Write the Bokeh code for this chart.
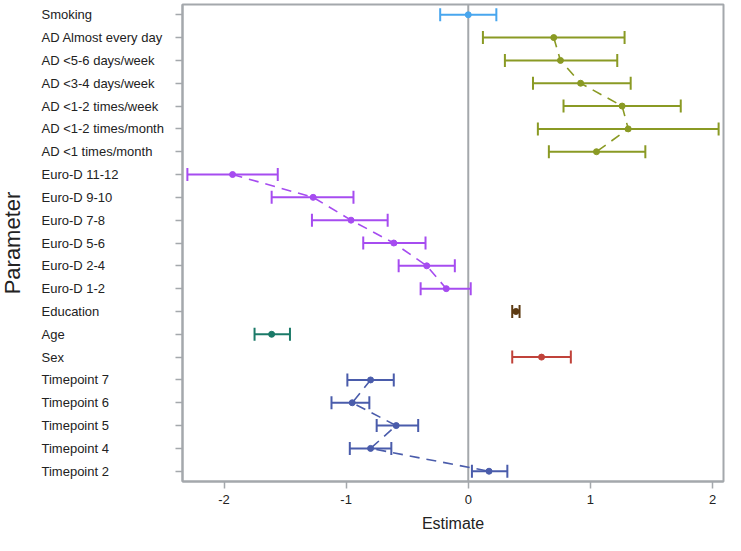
import math
from bokeh.plotting import figure
from bokeh.layouts import row
from bokeh.models import ColumnDataSource, Range1d, Span, FixedTicker
from bokeh.embed import file_html
from bokeh.resources import INLINE
from bokeh.core.properties import value

params = ["Smoking", "AD Almost every day", "AD <5-6 days/week", "AD <3-4 days/week",
          "AD <1-2 times/week", "AD <1-2 times/month", "AD <1 times/month",
          "Euro-D 11-12", "Euro-D 9-10", "Euro-D 7-8", "Euro-D 5-6", "Euro-D 2-4", "Euro-D 1-2",
          "Education", "Age", "Sex",
          "Timepoint 7", "Timepoint 6", "Timepoint 5", "Timepoint 4", "Timepoint 2"]
estimate = [0.00, 0.70, 0.755, 0.92, 1.26, 1.31, 1.05,
            -1.93, -1.27, -0.96, -0.61, -0.34, -0.18,
            0.39, -1.61, 0.60,
            -0.80, -0.95, -0.59, -0.80, 0.17]
lower = [-0.23, 0.12, 0.30, 0.53, 0.78, 0.57, 0.66,
         -2.30, -1.61, -1.28, -0.86, -0.57, -0.39,
         0.36, -1.75, 0.36,
         -0.99, -1.12, -0.75, -0.97, 0.03]
upper = [0.23, 1.28, 1.22, 1.33, 1.74, 2.05, 1.45,
         -1.56, -0.94, -0.66, -0.35, -0.11, 0.02,
         0.42, -1.46, 0.84,
         -0.61, -0.81, -0.41, -0.63, 0.32]
group = ["Smoking"] + ["AD"] * 6 + ["Euro-D"] * 6 + ["Education", "Age", "Sex"] + ["Timepoint"] * 5
x_ticks = [-2, -1, 0, 1, 2]
x_tick_labels = ["-2", "-1", "0", "1", "2"]

colors = {"Smoking": "#48a6ee", "AD": "#8a9a24", "Euro-D": "#a64cf0", "Education": "#5c3a12",
          "Age": "#1b7a68", "Sex": "#c0423a", "Timepoint": "#4a5cab"}
connected = ["AD", "Euro-D", "Timepoint"]

rows = list(range(len(params)))
src = ColumnDataSource(dict(y=rows, est=estimate, lo=lower, hi=upper, label=params,
                            color=[colors[g] for g in group]))

H = 535
TOP, BOTTOM = 4, 54
LW = 174  # width of the label panel
GREY = "#a4a8ac"
yr = Range1d(20.45, -0.45)

# ---- main plot ----
p = figure(width=725 - LW, height=H, output_backend="svg", toolbar_location=None,
           x_range=Range1d(-2.34, 2.09), y_range=yr,
           min_border_left=8, min_border_right=2, min_border_top=TOP, min_border_bottom=BOTTOM)
p.grid.visible = False
p.outline_line_color = GREY
p.outline_line_width = 2

p.add_layout(Span(location=0, dimension="height", line_color=GREY, line_width=2, level="underlay"))

for g in connected:
    idx = [i for i in rows if group[i] == g]
    p.line([estimate[i] for i in idx], idx, line_color=colors[g], line_width=1.6, line_dash="10 7")

p.segment(x0="lo", y0="y", x1="hi", y1="y", source=src, line_color="color", line_width=2)
p.scatter(x="lo", y="y", source=src, marker="dash", angle=math.pi / 2, size=13,
          line_color="color", line_width=2)
p.scatter(x="hi", y="y", source=src, marker="dash", angle=math.pi / 2, size=13,
          line_color="color", line_width=2)
p.scatter(x="est", y="y", source=src, marker="circle", size=6, fill_color="color", line_color="color")

xa = p.xaxis[0]
xa.ticker = FixedTicker(ticks=x_ticks)
xa.major_label_overrides = dict(zip(x_ticks, x_tick_labels))
xa.minor_tick_line_color = None
xa.major_tick_out = 7
xa.major_tick_in = 0
xa.major_tick_line_color = GREY
xa.major_tick_line_width = 1.5
xa.axis_line_color = GREY
xa.axis_line_width = 2
xa.major_label_text_font = "Liberation Sans"
xa.major_label_text_font_size = "13px"
xa.major_label_text_color = "#222222"
xa.major_label_standoff = 6
xa.axis_label = "Estimate"
xa.axis_label_text_font = "Liberation Sans"
xa.axis_label_text_font_size = "16px"
xa.axis_label_text_font_style = "normal"
xa.axis_label_text_color = "#222222"
xa.axis_label_standoff = 8

ya = p.yaxis[0]
ya.ticker = FixedTicker(ticks=rows)
ya.minor_tick_line_color = None
ya.major_tick_out = 7
ya.major_tick_in = 0
ya.major_tick_line_color = GREY
ya.major_tick_line_width = 1.5
ya.axis_line_color = GREY
ya.axis_line_width = 2
ya.major_label_standoff = 0
ya.major_label_overrides = {i: "" for i in rows}

# ---- label panel (left-aligned parameter names + axis title) ----
lab = figure(width=LW, height=H, output_backend="svg", toolbar_location=None,
             x_range=Range1d(0, LW), y_range=yr, x_axis_location=None, y_axis_location=None,
             min_border_left=0, min_border_right=0, min_border_top=TOP, min_border_bottom=BOTTOM)
lab.grid.visible = False
lab.outline_line_color = None
lab.text(x=41, y="y", text="label", source=src, text_align="left", text_baseline="middle",
         text_font=value("Liberation Sans"), text_font_size="13px", text_color="#222222")
lab.text(x=[12], y=[(yr.start + yr.end) / 2], text=["Parameter"], angle=math.pi / 2,
         text_align="center", text_baseline="middle",
         text_font=value("Liberation Sans"), text_font_size="22px", text_color="#222222")

layout = row(lab, p, spacing=0)
open("out.html", "w").write(file_html(layout, INLINE))
